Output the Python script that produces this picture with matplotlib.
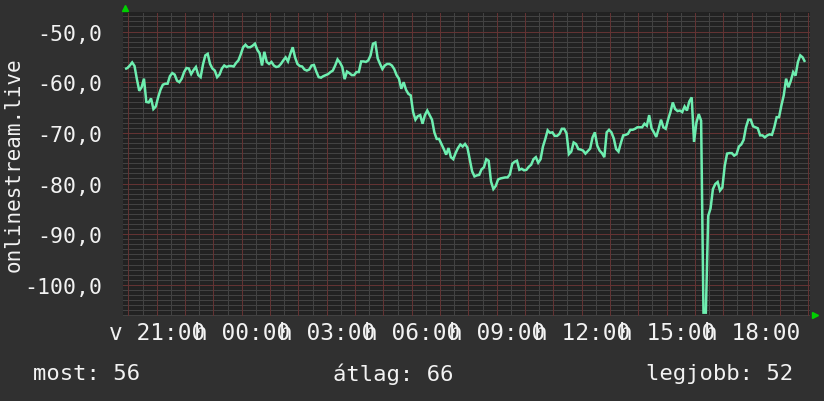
import numpy as np
import matplotlib
matplotlib.use("Agg")
import matplotlib.pyplot as plt

# jelszint (dB) 5 percenkent, 19:53-tol
start_hour = -7 / 60  # 20:00-hoz kepest
step_hour = 5 / 60
signal = [
    -57.4, -57.2, -56.7, -56.1, -56.8, -59.4, -61.7, -61.0, -59.3, -63.9,
    -64.0, -63.2, -65.3, -64.8, -63.0, -61.5, -60.5, -60.3, -60.3, -58.8,
    -58.2, -58.5, -59.7, -60.0, -59.3, -58.0, -57.2, -57.3, -58.4, -57.6,
    -57.0, -58.6, -59.0, -56.5, -54.7, -54.4, -56.4, -57.3, -57.7, -59.0,
    -58.5, -57.3, -56.7, -57.0, -56.8, -56.8, -56.9, -56.2, -55.7, -54.5,
    -53.1, -52.6, -53.1, -53.1, -52.8, -52.4, -53.6, -54.3, -56.7, -54.0,
    -56.0, -56.4, -56.0, -56.7, -57.0, -56.9, -56.4, -55.7, -55.1, -55.9,
    -54.4, -53.1, -55.1, -56.4, -56.8, -56.9, -57.5, -57.7, -57.5, -56.7,
    -56.6, -57.9, -59.0, -59.1, -58.8, -58.6, -58.4, -58.0, -57.7, -56.7,
    -55.5, -56.1, -57.0, -59.4, -57.9, -58.2, -58.6, -58.6, -58.0, -58.0,
    -55.9, -55.9, -56.0, -55.7, -54.7, -52.4, -52.2, -55.3, -56.4, -57.4,
    -56.7, -56.4, -56.4, -56.7, -57.4, -58.6, -59.3, -61.3, -60.0, -61.5,
    -62.3, -62.6, -65.9, -67.4, -66.7, -66.5, -68.2, -66.5, -65.6, -66.5,
    -67.4, -69.9, -71.2, -71.2, -72.2, -73.2, -74.3, -73.0, -74.8, -75.2,
    -74.0, -73.0, -72.3, -72.7, -72.2, -72.9, -75.2, -77.6, -78.6, -78.4,
    -78.3, -77.2, -76.8, -75.2, -75.5, -79.6, -81.1, -80.5, -79.2, -79.0,
    -78.9, -78.8, -78.8, -78.2, -76.1, -75.7, -75.5, -77.3, -77.1, -77.4,
    -77.3, -76.7, -76.3, -75.2, -74.8, -75.9, -75.2, -72.7, -71.2, -69.5,
    -70.0, -69.9, -70.6, -70.6, -70.2, -69.2, -69.2, -70.1, -74.2, -73.7,
    -71.9, -72.2, -73.2, -73.3, -73.5, -74.1, -73.6, -73.1, -70.9, -69.9,
    -72.5, -73.5, -74.0, -74.8, -69.9, -69.4, -69.9, -71.1, -73.2, -73.7,
    -72.0, -70.5, -70.4, -70.2, -69.4, -69.4, -69.2, -68.9, -68.9, -68.9,
    -68.2, -68.6, -66.5, -69.1, -69.9, -70.8, -69.2, -67.4, -68.9, -69.2,
    -67.4, -65.9, -64.0, -65.3, -65.7, -65.6, -65.9, -64.8, -65.6, -63.8,
    -63.0, -71.8, -68.0, -66.3, -67.6, -105.5, -105.5, -86.4, -84.9, -81.1,
    -80.1, -79.7, -81.4, -80.8, -76.5, -74.1, -74.0, -74.0, -74.5, -74.2,
    -72.7, -72.3, -71.4, -68.9, -67.4, -67.4, -68.7, -68.9, -69.1, -70.5,
    -70.5, -70.9, -70.5, -70.3, -70.4, -68.9, -66.9, -66.9, -64.6, -62.6,
    -59.3, -61.0, -59.7, -58.0, -58.7, -56.0, -54.7, -55.1,
    -56.0,
]

tick_hours = [1, 4, 7, 10, 13, 16, 19, 22]
tick_labels = ["v 21:00", "h 00:00", "h 03:00", "h 06:00", "h 09:00",
               "h 12:00", "h 15:00", "h 18:00"]
y_ticks = [-100, -90, -80, -70, -60, -50]
y_labels = ["-100,0", "-90,0", "-80,0", "-70,0", "-60,0", "-50,0"]
y_title = "onlinestream.live"
footer = [("most: 56", "left", 33), ("átlag: 66", "left", 333), ("legjobb: 52", "right", 793)]

BG = "#303030"
PLOT_BG = "#222222"
LINE = "#6eeeb0"
TXT = "#f2f2f2"
MAJ = "#633333"
MIN = "#424242"
FONT = "DejaVu Sans Mono"

W, H = 824, 402
fig = plt.figure(figsize=(W / 100, H / 100), dpi=100, facecolor=BG)
ax = fig.add_axes([123 / W, 1 - 316.7 / H, (810 - 123) / W, (316.7 - 13.3) / H])
ax.set_facecolor(PLOT_BG)

hours = start_hour + step_hour * np.arange(len(signal))
ax.plot(hours, signal, color=LINE, lw=1.8, solid_joinstyle="miter",
        solid_capstyle="butt", zorder=3)

ax.set_xlim(-0.19, 24.06)
ax.set_ylim(-106.1, -46.2)

ax.set_xticks(tick_hours)
ax.set_xticklabels(tick_labels, fontsize=16.4, family=FONT, color=TXT)
ax.set_yticks(y_ticks)
ax.set_yticklabels(y_labels, fontsize=15.5, family=FONT, color=TXT)
ax.tick_params(length=0, which="both")
ax.tick_params(axis="x", pad=4)
ax.tick_params(axis="y", pad=15)

# racs: szurke pontozott minden fel oranal / 1 dB-nel, piros orankent / 10 dB-nel
for h in np.arange(0, 24.5, 0.5):
    major = float(h).is_integer()
    ax.axvline(h, color=MAJ if major else MIN, lw=0.72, ls=(0, (1, 1)),
               antialiased=False, zorder=2 if major else 1)
for v in range(-106, -46):
    major = v % 10 == 0
    ax.axhline(v, color=MAJ if major else MIN, lw=0.72, ls=(0, (1, 1)),
               antialiased=False, zorder=2 if major else 1)

for s in ax.spines.values():
    s.set_visible(False)

# nyilak
fig.add_artist(plt.Line2D([125 / W], [1 - 9 / H], marker="^", color="#00d000",
                          markersize=5, transform=fig.transFigure))
fig.add_artist(plt.Line2D([815 / W], [1 - 316 / H], marker=">", color="#00d000",
                          markersize=5, transform=fig.transFigure))

fig.text(14 / W, 1 - 165 / H, y_title, rotation=90, ha="center", va="center",
         fontsize=15, family=FONT, color=TXT)
for txt, ha, x in footer:
    fig.text(x / W, 1 - 374 / H, txt, ha=ha, va="center", fontsize=16,
             family=FONT, color=TXT)

fig.savefig("out.png", dpi=100, facecolor=BG)
